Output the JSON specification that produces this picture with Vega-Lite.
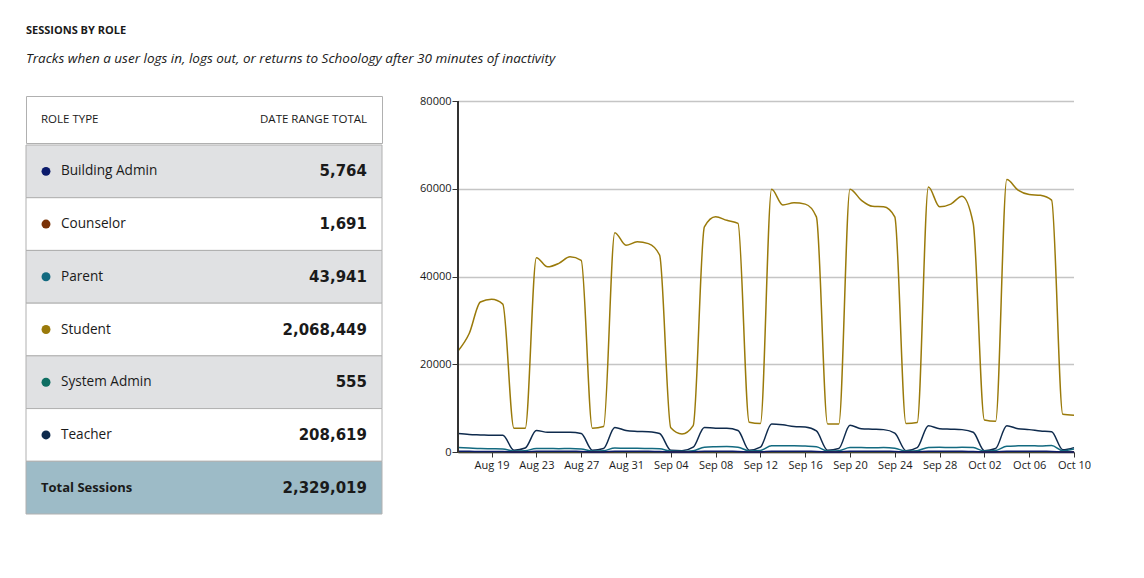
{
  "$schema": "https://vega.github.io/schema/vega-lite/v6.json",
  "background": "white",
  "padding": {"left": 25, "top": 24, "right": 0, "bottom": 0},
  "title": {
    "text": "SESSIONS BY ROLE",
    "subtitle": "Tracks when a user logs in, logs out, or returns to Schoology after 30 minutes of inactivity",
    "anchor": "start",
    "frame": "group",
    "font": "Open Sans",
    "fontSize": 11,
    "fontWeight": "bold",
    "color": "#1a1a1a",
    "subtitleFont": "Open Sans",
    "subtitleFontSize": 13.5,
    "subtitleFontStyle": "italic",
    "subtitleColor": "#1a1a1a",
    "subtitlePadding": 16,
    "offset": 30
  },
  "datasets": {
    "roles": [
      {"role": "Building Admin", "total": 5764},
      {"role": "Counselor", "total": 1691},
      {"role": "Parent", "total": 43941},
      {"role": "Student", "total": 2068449},
      {"role": "System Admin", "total": 555},
      {"role": "Teacher", "total": 208619},
      {"role": "Total Sessions", "total": 2329019}
    ],
    "daily": [
      {"date": "2021-08-16T00:00:00", "Building Admin": 150, "Counselor": 45, "Parent": 1000, "Student": 23000, "System Admin": 14, "Teacher": 4200},
      {"date": "2021-08-17T00:00:00", "Building Admin": 145, "Counselor": 44, "Parent": 900, "Student": 27000, "System Admin": 13, "Teacher": 4000},
      {"date": "2021-08-18T00:00:00", "Building Admin": 140, "Counselor": 42, "Parent": 800, "Student": 34200, "System Admin": 12, "Teacher": 3900},
      {"date": "2021-08-19T00:00:00", "Building Admin": 140, "Counselor": 40, "Parent": 750, "Student": 34800, "System Admin": 13, "Teacher": 3800},
      {"date": "2021-08-20T00:00:00", "Building Admin": 130, "Counselor": 38, "Parent": 700, "Student": 33700, "System Admin": 11, "Teacher": 3800},
      {"date": "2021-08-21T00:00:00", "Building Admin": 15, "Counselor": 2, "Parent": 200, "Student": 5400, "System Admin": 2, "Teacher": 400},
      {"date": "2021-08-22T00:00:00", "Building Admin": 20, "Counselor": 3, "Parent": 300, "Student": 5400, "System Admin": 3, "Teacher": 900},
      {"date": "2021-08-23T00:00:00", "Building Admin": 155, "Counselor": 46, "Parent": 800, "Student": 44300, "System Admin": 15, "Teacher": 4900},
      {"date": "2021-08-24T00:00:00", "Building Admin": 150, "Counselor": 44, "Parent": 800, "Student": 42200, "System Admin": 14, "Teacher": 4500},
      {"date": "2021-08-25T00:00:00", "Building Admin": 145, "Counselor": 43, "Parent": 750, "Student": 43000, "System Admin": 14, "Teacher": 4500},
      {"date": "2021-08-26T00:00:00", "Building Admin": 148, "Counselor": 42, "Parent": 800, "Student": 44500, "System Admin": 13, "Teacher": 4500},
      {"date": "2021-08-27T00:00:00", "Building Admin": 135, "Counselor": 39, "Parent": 700, "Student": 43700, "System Admin": 12, "Teacher": 4200},
      {"date": "2021-08-28T00:00:00", "Building Admin": 15, "Counselor": 2, "Parent": 200, "Student": 5400, "System Admin": 2, "Teacher": 400},
      {"date": "2021-08-29T00:00:00", "Building Admin": 18, "Counselor": 3, "Parent": 300, "Student": 5800, "System Admin": 3, "Teacher": 800},
      {"date": "2021-08-30T00:00:00", "Building Admin": 160, "Counselor": 47, "Parent": 900, "Student": 50000, "System Admin": 15, "Teacher": 5600},
      {"date": "2021-08-31T00:00:00", "Building Admin": 150, "Counselor": 45, "Parent": 850, "Student": 47100, "System Admin": 14, "Teacher": 4900},
      {"date": "2021-09-01T00:00:00", "Building Admin": 148, "Counselor": 44, "Parent": 850, "Student": 47900, "System Admin": 14, "Teacher": 4700},
      {"date": "2021-09-02T00:00:00", "Building Admin": 145, "Counselor": 42, "Parent": 800, "Student": 47500, "System Admin": 13, "Teacher": 4600},
      {"date": "2021-09-03T00:00:00", "Building Admin": 130, "Counselor": 38, "Parent": 750, "Student": 44900, "System Admin": 12, "Teacher": 4200},
      {"date": "2021-09-04T00:00:00", "Building Admin": 12, "Counselor": 2, "Parent": 200, "Student": 5500, "System Admin": 2, "Teacher": 400},
      {"date": "2021-09-05T00:00:00", "Building Admin": 10, "Counselor": 2, "Parent": 150, "Student": 4100, "System Admin": 1, "Teacher": 300},
      {"date": "2021-09-06T00:00:00", "Building Admin": 30, "Counselor": 5, "Parent": 300, "Student": 6000, "System Admin": 3, "Teacher": 1100},
      {"date": "2021-09-07T00:00:00", "Building Admin": 160, "Counselor": 48, "Parent": 1100, "Student": 51300, "System Admin": 15, "Teacher": 5600},
      {"date": "2021-09-08T00:00:00", "Building Admin": 155, "Counselor": 46, "Parent": 1200, "Student": 53600, "System Admin": 14, "Teacher": 5400},
      {"date": "2021-09-09T00:00:00", "Building Admin": 150, "Counselor": 44, "Parent": 1250, "Student": 52800, "System Admin": 14, "Teacher": 5400},
      {"date": "2021-09-10T00:00:00", "Building Admin": 140, "Counselor": 40, "Parent": 1100, "Student": 52100, "System Admin": 12, "Teacher": 4900},
      {"date": "2021-09-11T00:00:00", "Building Admin": 15, "Counselor": 2, "Parent": 250, "Student": 6800, "System Admin": 2, "Teacher": 400},
      {"date": "2021-09-12T00:00:00", "Building Admin": 22, "Counselor": 3, "Parent": 350, "Student": 6500, "System Admin": 3, "Teacher": 1100},
      {"date": "2021-09-13T00:00:00", "Building Admin": 165, "Counselor": 48, "Parent": 1400, "Student": 59900, "System Admin": 16, "Teacher": 6400},
      {"date": "2021-09-14T00:00:00", "Building Admin": 158, "Counselor": 46, "Parent": 1400, "Student": 56300, "System Admin": 15, "Teacher": 6200},
      {"date": "2021-09-15T00:00:00", "Building Admin": 155, "Counselor": 45, "Parent": 1450, "Student": 56800, "System Admin": 14, "Teacher": 5800},
      {"date": "2021-09-16T00:00:00", "Building Admin": 150, "Counselor": 44, "Parent": 1350, "Student": 56500, "System Admin": 14, "Teacher": 5700},
      {"date": "2021-09-17T00:00:00", "Building Admin": 138, "Counselor": 40, "Parent": 1200, "Student": 53600, "System Admin": 12, "Teacher": 4800},
      {"date": "2021-09-18T00:00:00", "Building Admin": 14, "Counselor": 2, "Parent": 250, "Student": 6400, "System Admin": 2, "Teacher": 400},
      {"date": "2021-09-19T00:00:00", "Building Admin": 20, "Counselor": 3, "Parent": 300, "Student": 6400, "System Admin": 3, "Teacher": 800},
      {"date": "2021-09-20T00:00:00", "Building Admin": 162, "Counselor": 47, "Parent": 1000, "Student": 59900, "System Admin": 15, "Teacher": 6100},
      {"date": "2021-09-21T00:00:00", "Building Admin": 155, "Counselor": 45, "Parent": 1000, "Student": 57400, "System Admin": 14, "Teacher": 5300},
      {"date": "2021-09-22T00:00:00", "Building Admin": 150, "Counselor": 44, "Parent": 950, "Student": 56000, "System Admin": 14, "Teacher": 5200},
      {"date": "2021-09-23T00:00:00", "Building Admin": 148, "Counselor": 43, "Parent": 1000, "Student": 55900, "System Admin": 13, "Teacher": 5100},
      {"date": "2021-09-24T00:00:00", "Building Admin": 135, "Counselor": 39, "Parent": 850, "Student": 53600, "System Admin": 12, "Teacher": 4300},
      {"date": "2021-09-25T00:00:00", "Building Admin": 12, "Counselor": 2, "Parent": 200, "Student": 6500, "System Admin": 2, "Teacher": 300},
      {"date": "2021-09-26T00:00:00", "Building Admin": 20, "Counselor": 3, "Parent": 300, "Student": 6700, "System Admin": 3, "Teacher": 1000},
      {"date": "2021-09-27T00:00:00", "Building Admin": 160, "Counselor": 47, "Parent": 1050, "Student": 60400, "System Admin": 15, "Teacher": 6000},
      {"date": "2021-09-28T00:00:00", "Building Admin": 152, "Counselor": 45, "Parent": 1100, "Student": 55900, "System Admin": 14, "Teacher": 5300},
      {"date": "2021-09-29T00:00:00", "Building Admin": 150, "Counselor": 44, "Parent": 1000, "Student": 56500, "System Admin": 14, "Teacher": 5200},
      {"date": "2021-09-30T00:00:00", "Building Admin": 148, "Counselor": 43, "Parent": 1100, "Student": 58300, "System Admin": 13, "Teacher": 5100},
      {"date": "2021-10-01T00:00:00", "Building Admin": 132, "Counselor": 38, "Parent": 1000, "Student": 52100, "System Admin": 12, "Teacher": 4500},
      {"date": "2021-10-02T00:00:00", "Building Admin": 12, "Counselor": 2, "Parent": 200, "Student": 7300, "System Admin": 2, "Teacher": 300},
      {"date": "2021-10-03T00:00:00", "Building Admin": 18, "Counselor": 3, "Parent": 350, "Student": 7000, "System Admin": 3, "Teacher": 800},
      {"date": "2021-10-04T00:00:00", "Building Admin": 162, "Counselor": 47, "Parent": 1300, "Student": 62100, "System Admin": 15, "Teacher": 6000},
      {"date": "2021-10-05T00:00:00", "Building Admin": 155, "Counselor": 45, "Parent": 1400, "Student": 59700, "System Admin": 14, "Teacher": 5300},
      {"date": "2021-10-06T00:00:00", "Building Admin": 150, "Counselor": 44, "Parent": 1450, "Student": 58700, "System Admin": 14, "Teacher": 5100},
      {"date": "2021-10-07T00:00:00", "Building Admin": 148, "Counselor": 42, "Parent": 1350, "Student": 58500, "System Admin": 13, "Teacher": 4800},
      {"date": "2021-10-08T00:00:00", "Building Admin": 135, "Counselor": 39, "Parent": 1500, "Student": 57400, "System Admin": 12, "Teacher": 4600},
      {"date": "2021-10-09T00:00:00", "Building Admin": 14, "Counselor": 2, "Parent": 300, "Student": 8600, "System Admin": 2, "Teacher": 500},
      {"date": "2021-10-10T00:00:00", "Building Admin": 25, "Counselor": 4, "Parent": 700, "Student": 8400, "System Admin": 3, "Teacher": 1000}
    ]
  },
  "hconcat": [
    {
      "spacing": 0,
      "vconcat": [
        {
          "width": 356,
          "height": 47,
          "view": {"stroke": "#b0b0b0", "fill": "white"},
          "data": {"values": [{"a": "ROLE TYPE", "b": "DATE RANGE TOTAL"}]},
          "layer": [
            {
              "mark": {"type": "text", "align": "left", "baseline": "middle", "font": "Open Sans", "fontSize": 11.5, "color": "#1a1a1a"},
              "encoding": {"x": {"value": 15}, "text": {"field": "a"}}
            },
            {
              "mark": {"type": "text", "align": "right", "baseline": "middle", "font": "Open Sans", "fontSize": 11.5, "color": "#1a1a1a"},
              "encoding": {"x": {"value": 341}, "text": {"field": "b"}}
            }
          ]
        },
        {
          "width": 356,
          "height": 369,
          "data": {"name": "roles"},
          "encoding": {
            "y": {"field": "role", "type": "nominal", "sort": null, "scale": {"paddingInner": 0, "paddingOuter": 0}, "axis": null}
          },
          "layer": [
            {
              "mark": {"type": "rect", "stroke": "#b0b0b0", "strokeWidth": 1},
              "encoding": {
                "fill": {
                  "field": "role", "type": "nominal", "legend": null,
                  "scale": {
                    "domain": ["Building Admin", "Counselor", "Parent", "Student", "System Admin", "Teacher", "Total Sessions"],
                    "range": ["#e0e1e3", "#ffffff", "#e0e1e3", "#ffffff", "#e0e1e3", "#ffffff", "#9dbbc7"]
                  }
                }
              }
            },
            {
              "transform": [{"filter": "datum.role !== 'Total Sessions'"}],
              "mark": {"type": "circle", "size": 80, "opacity": 1},
              "encoding": {
                "x": {"value": 20},
                "color": {
                  "field": "role", "type": "nominal", "legend": null,
                  "scale": {
                    "domain": ["Building Admin", "Counselor", "Parent", "Student", "System Admin", "Teacher"],
                    "range": ["#0b1a6b", "#7a3208", "#136a80", "#9a7a0a", "#0e6e62", "#0f2b4d"]
                  }
                }
              }
            },
            {
              "transform": [{"filter": "datum.role !== 'Total Sessions'"}],
              "mark": {"type": "text", "align": "left", "baseline": "middle", "font": "Open Sans", "fontSize": 13.6, "color": "#1a1a1a"},
              "encoding": {"x": {"value": 35}, "text": {"field": "role"}}
            },
            {
              "transform": [{"filter": "datum.role === 'Total Sessions'"}],
              "mark": {"type": "text", "align": "left", "baseline": "middle", "font": "Open Sans", "fontSize": 13, "fontWeight": "bold", "color": "#1a1a1a"},
              "encoding": {"x": {"value": 15}, "text": {"field": "role"}}
            },
            {
              "mark": {"type": "text", "align": "right", "baseline": "middle", "font": "DejaVu Sans", "fontSize": 15, "fontWeight": "bold", "color": "#1a1a1a"},
              "encoding": {"x": {"value": 341}, "text": {"field": "total", "type": "quantitative", "format": ","}}
            }
          ]
        }
      ]
    },
    {
      "width": 616,
      "height": 356,
      "data": {"name": "daily"},
      "layer": [
        {
          "transform": [
            {"fold": ["Student", "Teacher", "Parent", "System Admin", "Counselor", "Building Admin"], "as": ["role", "sessions"]}
          ],
          "mark": {"type": "line", "interpolate": "monotone", "strokeWidth": 1.5},
          "encoding": {
            "x": {
              "field": "date", "type": "temporal", "title": null,
              "axis": {
                "values": [
                  {"year": 2021, "month": "Aug", "date": 19},
                  {"year": 2021, "month": "Aug", "date": 23},
                  {"year": 2021, "month": "Aug", "date": 27},
                  {"year": 2021, "month": "Aug", "date": 31},
                  {"year": 2021, "month": "Sep", "date": 4},
                  {"year": 2021, "month": "Sep", "date": 8},
                  {"year": 2021, "month": "Sep", "date": 12},
                  {"year": 2021, "month": "Sep", "date": 16},
                  {"year": 2021, "month": "Sep", "date": 20},
                  {"year": 2021, "month": "Sep", "date": 24},
                  {"year": 2021, "month": "Sep", "date": 28},
                  {"year": 2021, "month": "Oct", "date": 2},
                  {"year": 2021, "month": "Oct", "date": 6},
                  {"year": 2021, "month": "Oct", "date": 10}
                ],
                "format": "%b %d",
                "grid": false,
                "labelFont": "Open Sans",
                "labelFontSize": 11,
                "labelColor": "#1a1a1a",
                "labelFlush": false,
                "labelOverlap": false,
                "tickColor": "#333333",
                "tickSize": 5,
                "domainColor": "#333333",
                "domainWidth": 1.5,
                "labelPadding": 2
              }
            },
            "y": {
              "field": "sessions", "type": "quantitative", "title": null,
              "scale": {"domain": [0, 81140], "nice": false},
              "axis": {
                "values": [0, 20000, 40000, 60000, 80000],
                "format": "d",
                "grid": true,
                "gridDash": [1, 1],
                "gridColor": "#8a8a8a",
                "gridWidth": 1.5,
                "domain": false,
                "labelFont": "Open Sans",
                "labelFontSize": 11,
                "labelColor": "#1a1a1a",
                "tickColor": "#333333",
                "tickSize": 6,
                "labelPadding": 1
              }
            },
            "color": {
              "field": "role", "type": "nominal", "legend": null,
              "scale": {
                "domain": ["Building Admin", "Counselor", "Parent", "Student", "System Admin", "Teacher"],
                "range": ["#0b1a6b", "#7a3208", "#3a8aa5", "#a08a1c", "#117a68", "#215270"]
              }
            }
          }
        },
        {
          "mark": {"type": "rule", "color": "#333333", "strokeWidth": 1.5},
          "encoding": {
            "x": {"datum": {"year": 2021, "month": "Aug", "date": 16}, "type": "temporal"},
            "y": {"datum": 0, "type": "quantitative"},
            "y2": {"datum": 80000}
          }
        }
      ]
    }
  ],
  "spacing": 36,
  "config": {
    "view": {"stroke": null},
    "font": "Open Sans"
  }
}
